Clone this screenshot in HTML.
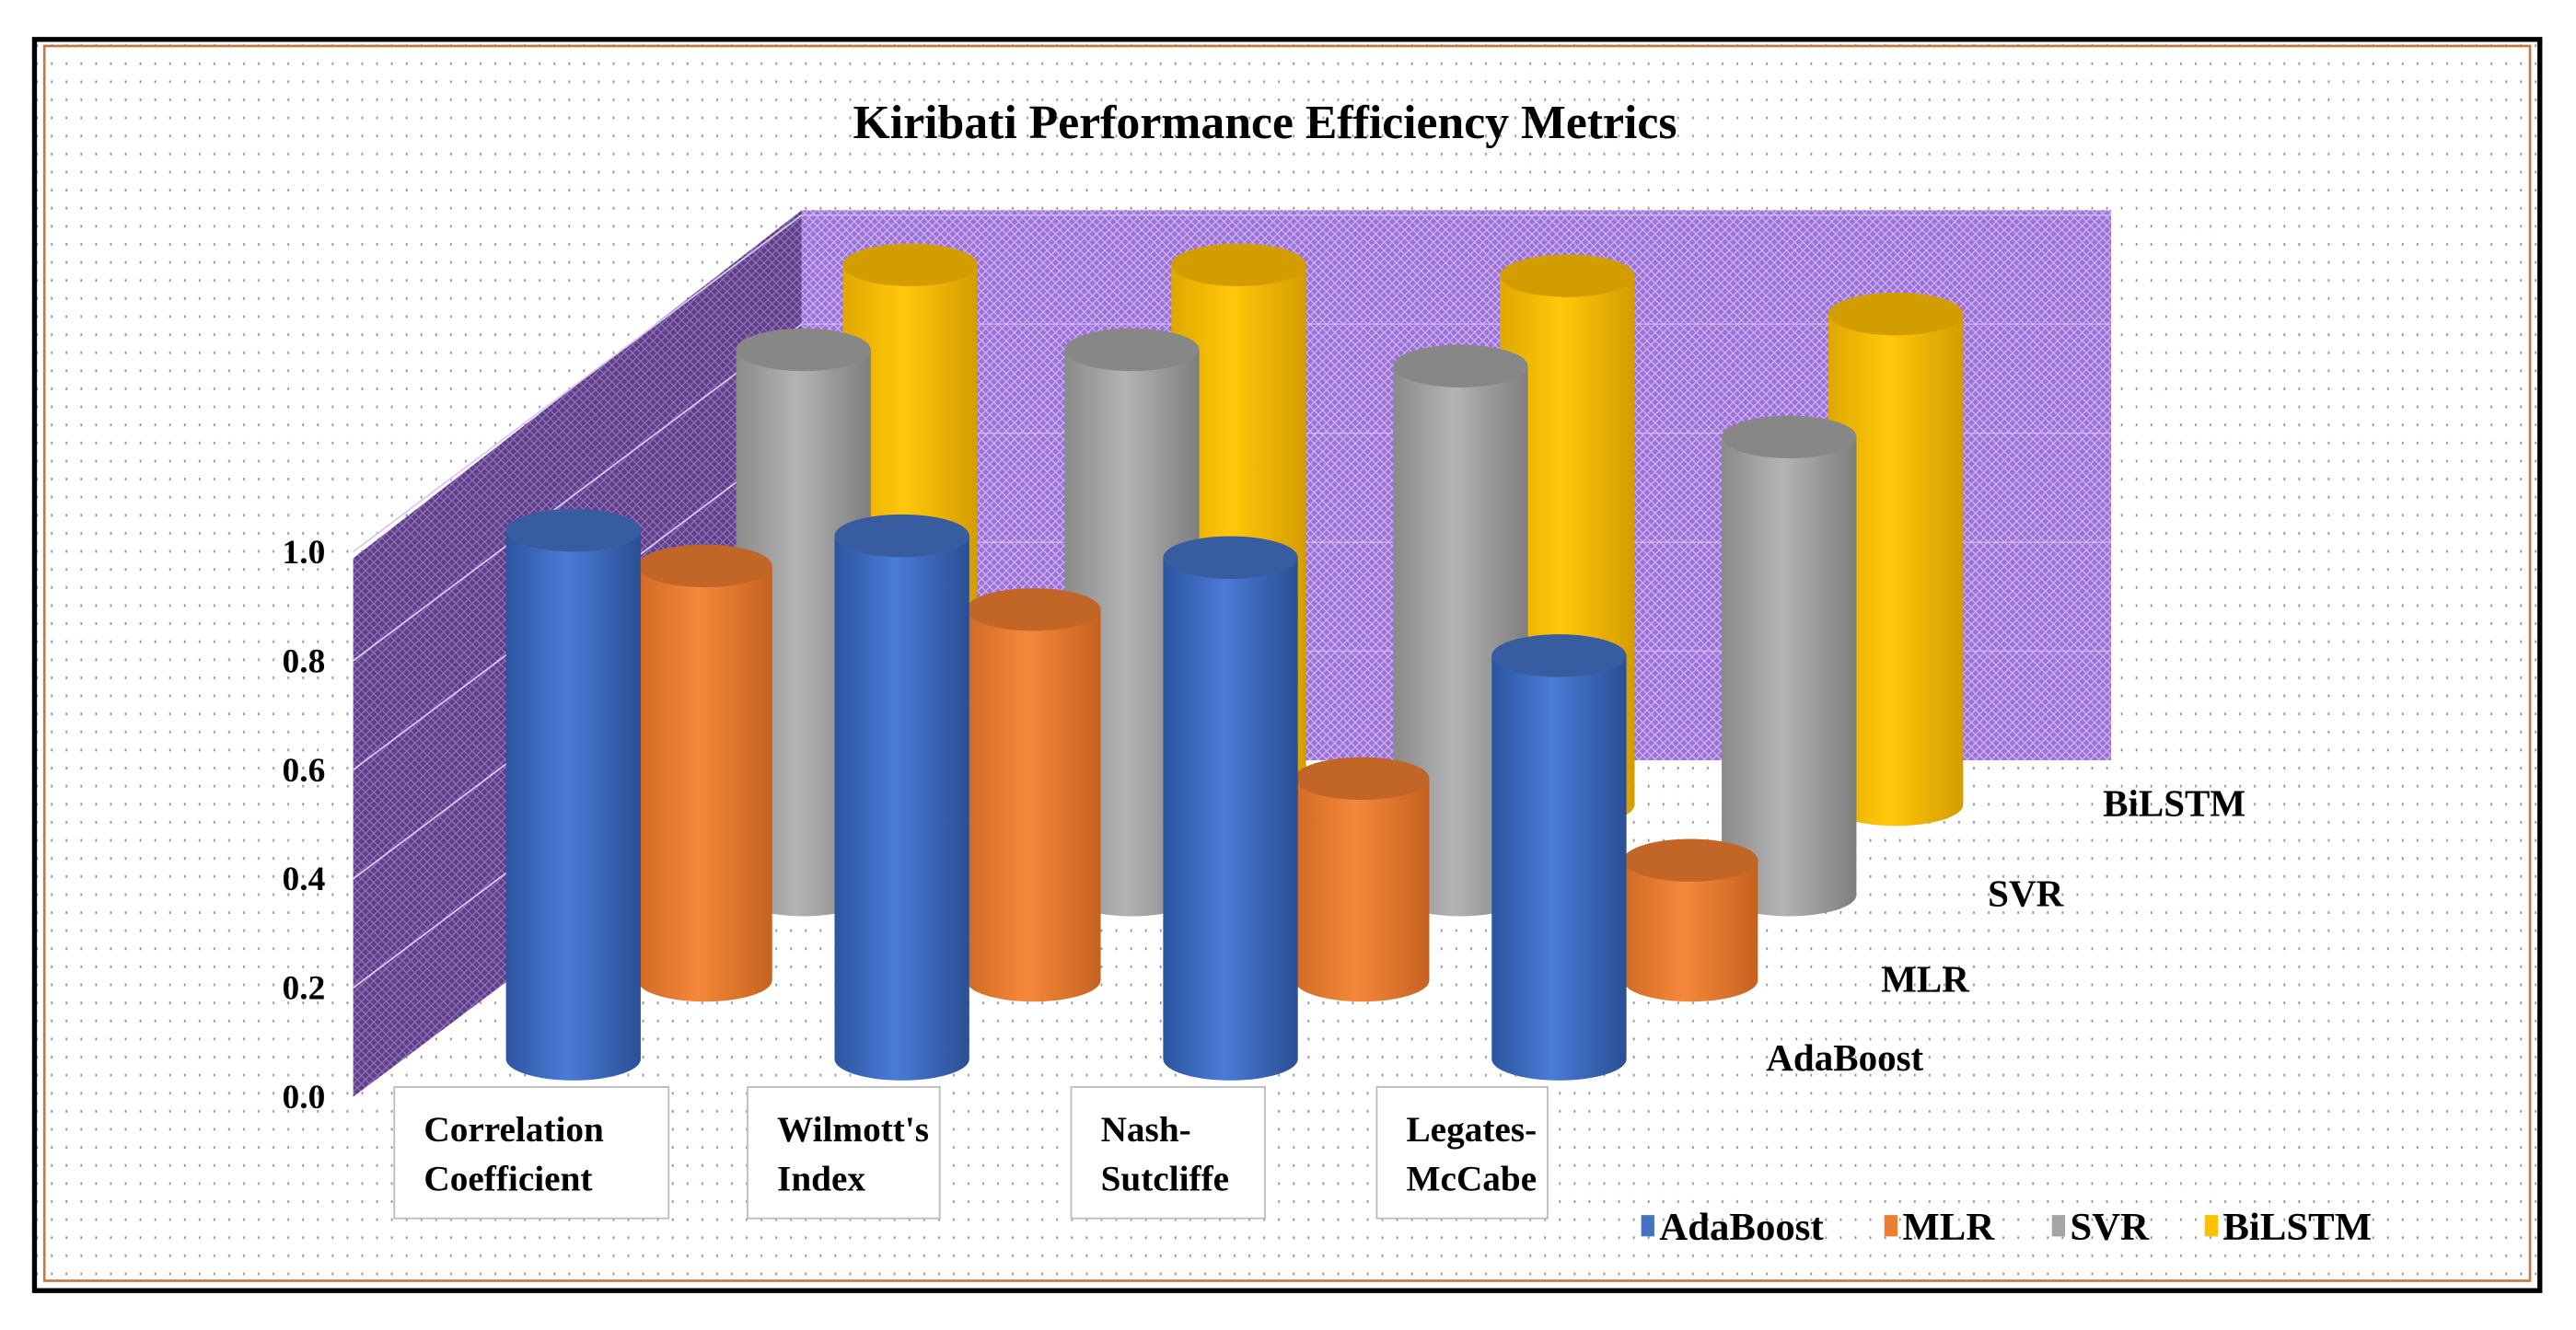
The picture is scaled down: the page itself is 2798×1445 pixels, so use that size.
<!DOCTYPE html>
<html><head><meta charset="utf-8"><style>
html,body{margin:0;padding:0;background:#fff;}
svg{display:block;}
text{font-family:"Liberation Serif",serif;font-weight:bold;fill:#000;}
</style></head><body>
<svg id="chart" width="2798" height="1445" viewBox="0 0 1568 810" preserveAspectRatio="none" xmlns="http://www.w3.org/2000/svg">
<defs>
<pattern id="dots" width="9" height="11" patternUnits="userSpaceOnUse"><rect width="9" height="11" fill="#fff"/><rect x="4" y="5" width="1" height="1.6" fill="#8a8fa8"/></pattern>
<pattern id="hatch" width="5" height="5" patternUnits="userSpaceOnUse"><rect width="5" height="5" fill="#9c6fd6"/><path d="M0 0L5 5M5 0L0 5" stroke="#c9b0ee" stroke-width="0.8"/></pattern>
<pattern id="hatch2" width="5" height="5" patternUnits="userSpaceOnUse"><rect width="5" height="5" fill="#5e3f86"/><path d="M0 0L5 5M5 0L0 5" stroke="#8c6db8" stroke-width="0.8"/></pattern>
<linearGradient id="g0" x1="0" x2="1"><stop offset="0" stop-color="#2c55a0"/><stop offset="0.45" stop-color="#4a7bd6"/><stop offset="1" stop-color="#2a4f94"/></linearGradient>
<linearGradient id="g1" x1="0" x2="1"><stop offset="0" stop-color="#d06a24"/><stop offset="0.45" stop-color="#f5883a"/><stop offset="1" stop-color="#c56220"/></linearGradient>
<linearGradient id="g2" x1="0" x2="1"><stop offset="0" stop-color="#8a8a8a"/><stop offset="0.45" stop-color="#b4b4b4"/><stop offset="1" stop-color="#7e7e7e"/></linearGradient>
<linearGradient id="g3" x1="0" x2="1"><stop offset="0" stop-color="#e0a800"/><stop offset="0.45" stop-color="#ffc80a"/><stop offset="1" stop-color="#d49c00"/></linearGradient>
</defs>
<rect width="1568" height="810" fill="#fff"/>
<rect x="21" y="24" width="1525" height="762" fill="url(#dots)" stroke="#000" stroke-width="3"/>
<rect x="27" y="28" width="1513" height="752" fill="none" stroke="#c07a45" stroke-width="1.5"/>
<text x="770" y="84" font-size="29" text-anchor="middle">Kiribati Performance Efficiency Metrics</text>
<polygon points="215,340 488,128 488,463 215,668" fill="url(#hatch2)"/>
<rect x="488" y="128" width="797" height="335" fill="url(#hatch)"/>
<g id="grid"></g>
<g id="yticks"></g>
<g id="bars"></g>
<g id="cats"></g>
<g id="rowlabels"></g>
<g id="legend"></g>
</svg>
<script>
const categories=["Correlation Coefficient","Wilmott's Index","Nash-Sutcliffe","Legates-McCabe"];
const series=["AdaBoost","MLR","SVR","BiLSTM"];
const adaboost=[0.97,0.96,0.92,0.74];
const mlr=[0.76,0.68,0.37,0.22];
const svr=[1.0,1.0,0.97,0.84];
const bilstm=[0.99,0.99,0.97,0.9];
const yTicks=["0.0","0.2","0.4","0.6","0.8","1.0"];
const values=[adaboost,mlr,svr,bilstm];
const colors=["#4472c4","#ed7d31","#a5a5a5","#ffc000"];
const NS="http://www.w3.org/2000/svg";
function mk(tag,attrs,parent){const e=document.createElementNS(NS,tag);for(const k in attrs)e.setAttribute(k,attrs[k]);parent.appendChild(e);return e;}
const SCALE=332;
function yv(v,base){return base-v*SCALE;}
const rowDx=[0,80,140,205], rowBase=[645,597,545,490];
function xCat(i,r){return 308+i*200+rowDx[r];}
const W=82, RY=13;
const grid=document.getElementById('grid');
yTicks.forEach((t,i)=>{const v=+t;if(v===0)return;
  const l=mk('line',{x1:215,y1:668-v*SCALE,x2:488,y2:463-v*SCALE,stroke:'#d8c8f0','stroke-width':1},grid);
  
  
  const l2=mk('line',{x1:488,y1:463-v*SCALE,x2:1285,y2:463-v*SCALE,stroke:'#d8c8f0','stroke-width':1,opacity:0.6},grid);
  
  
});
const yt=document.getElementById('yticks');
yTicks.forEach(t=>{const e=mk('text',{x:198,y:675-(+t)*SCALE,'font-size':21,'text-anchor':'end'},yt);e.textContent=t;
  
  });
const bars=document.getElementById('bars');
for(let r=3;r>=0;r--){
  values[r].forEach((v,i)=>{
    const x=xCat(i,r), base=rowBase[r], top=yv(v,base);
    const g=mk('g',{},bars);
    
    
    mk('path',{d:`M${x} ${top} L${x} ${base} A${W/2} ${RY} 0 0 0 ${x+W} ${base} L${x+W} ${top} Z`,fill:`url(#g${r})`},g);
    mk('ellipse',{cx:x+W/2,cy:top,rx:W/2,ry:RY,fill:colors[r],opacity:1},g);
    mk('ellipse',{cx:x+W/2,cy:top,rx:W/2,ry:RY,fill:'#000',opacity:0.18},g);
  });
}
const boxes=[[240,407],[455,572],[652,770],[838,942]];
const cats=document.getElementById('cats');
categories.forEach((c,i)=>{
  const g=mk('g',{},cats);
  
  
  mk('rect',{x:boxes[i][0],y:662,width:boxes[i][1]-boxes[i][0],height:80,fill:'#fff',stroke:'#bbb'},g);
  let parts=c==="Correlation Coefficient"?["Correlation","Coefficient"]:c.includes("-")?[c.split("-")[0]+"-",c.split("-")[1]]:c.split(" ");
  parts.forEach((p,k)=>{const t=mk('text',{x:boxes[i][0]+18,y:695+k*30,'font-size':22},g);t.textContent=p;});
});
const rl=document.getElementById('rowlabels');
const rlx=[1075,1145,1210,1280];
series.forEach((s,r)=>{const t=mk('text',{x:rlx[r],y:rowBase[r]+7,'font-size':23},rl);t.textContent=s;
  
  });
const lg=document.getElementById('legend');
const lx=[999,1147,1249,1342];
series.forEach((s,r)=>{const g=mk('g',{},lg);
  
  
  mk('rect',{x:lx[r],y:740,width:8,height:13,fill:colors[r]},g);
  const t=mk('text',{x:lx[r]+11,y:755,'font-size':24},g);t.textContent=s;});
</script>
</body></html>
